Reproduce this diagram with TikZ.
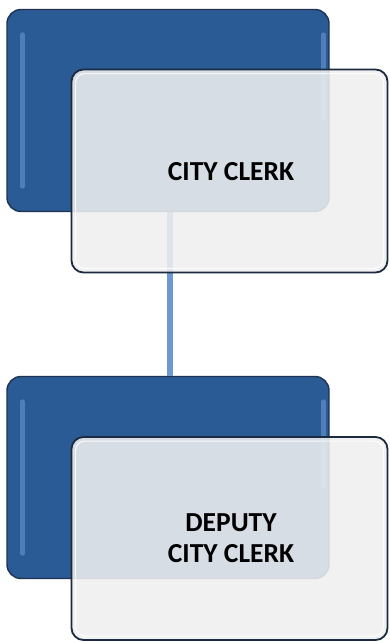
\documentclass[tikz,border=0pt]{standalone}
\usepackage{fontspec}
\setmainfont{Carlito}
\usetikzlibrary{positioning}
\definecolor{boxblue}{HTML}{2B5B95}
\definecolor{blueedge}{HTML}{1E3352}
\definecolor{bluehi}{HTML}{7FAAE0}
\definecolor{cardfill}{HTML}{EFEFEF}
\definecolor{cardedge}{HTML}{1C2A40}
\definecolor{linkblue}{HTML}{6E98D0}
\tikzset{
  backbox/.style={draw=blueedge, line width=1.4pt, fill=boxblue, rounded corners=14pt,
    minimum width=322pt, minimum height=202pt, inner sep=0pt},
  card/.style={draw=cardedge, line width=1.8pt, fill=cardfill, fill opacity=0.88, text opacity=1,
    rounded corners=12pt, minimum width=316pt, minimum height=203pt, inner sep=0pt},
  link/.style={draw=linkblue, line width=6pt},
  gloss/.style={draw=bluehi, line width=5pt, line cap=round, opacity=0.45},
  bevel/.style={draw=white, line width=1.2pt, rounded corners=9pt, opacity=0.8},
  label/.style={font=\bfseries\fontsize{27.5}{31}\selectfont, align=center, text=black},
}
\begin{document}
\begin{tikzpicture}[x=1pt,y=-1pt]
\useasboundingbox (0,0) rectangle (389,642);
% back boxes
\node[backbox] (b1) at (168,110.5) {};
\node[backbox] (b2) at (168,477.5) {};
\draw[gloss] ([xshift=16pt,yshift=-26pt]b1.north west) -- ([xshift=16pt,yshift=26pt]b1.south west);
\draw[gloss] ([xshift=-6pt,yshift=-26pt]b1.north east) -- ([xshift=-6pt,yshift=-110pt]b1.north east);
\draw[gloss] ([xshift=16pt,yshift=-26pt]b2.north west) -- ([xshift=16pt,yshift=26pt]b2.south west);
\draw[gloss] ([xshift=-6pt,yshift=-26pt]b2.north east) -- ([xshift=-6pt,yshift=-110pt]b2.north east);
% connector
\coordinate (c1) at (170,212);
\draw[link] (c1 |- b1.south) -- (c1 |- b2.north);
% cards
\node[card] (k1) at (229.5,171) {};
\node[card] (k2) at (229.5,538.5) {};
\draw[bevel] ([xshift=5pt,yshift=-5pt]k1.north west) rectangle ([xshift=-5pt,yshift=5pt]k1.south east);
\draw[bevel] ([xshift=5pt,yshift=-5pt]k2.north west) rectangle ([xshift=-5pt,yshift=5pt]k2.south east);
\node[label] (t1) at (231,172) {CITY CLERK};
\node[label] (t2) at (231,538) {DEPUTY\\CITY CLERK};
\end{tikzpicture}
\end{document}
